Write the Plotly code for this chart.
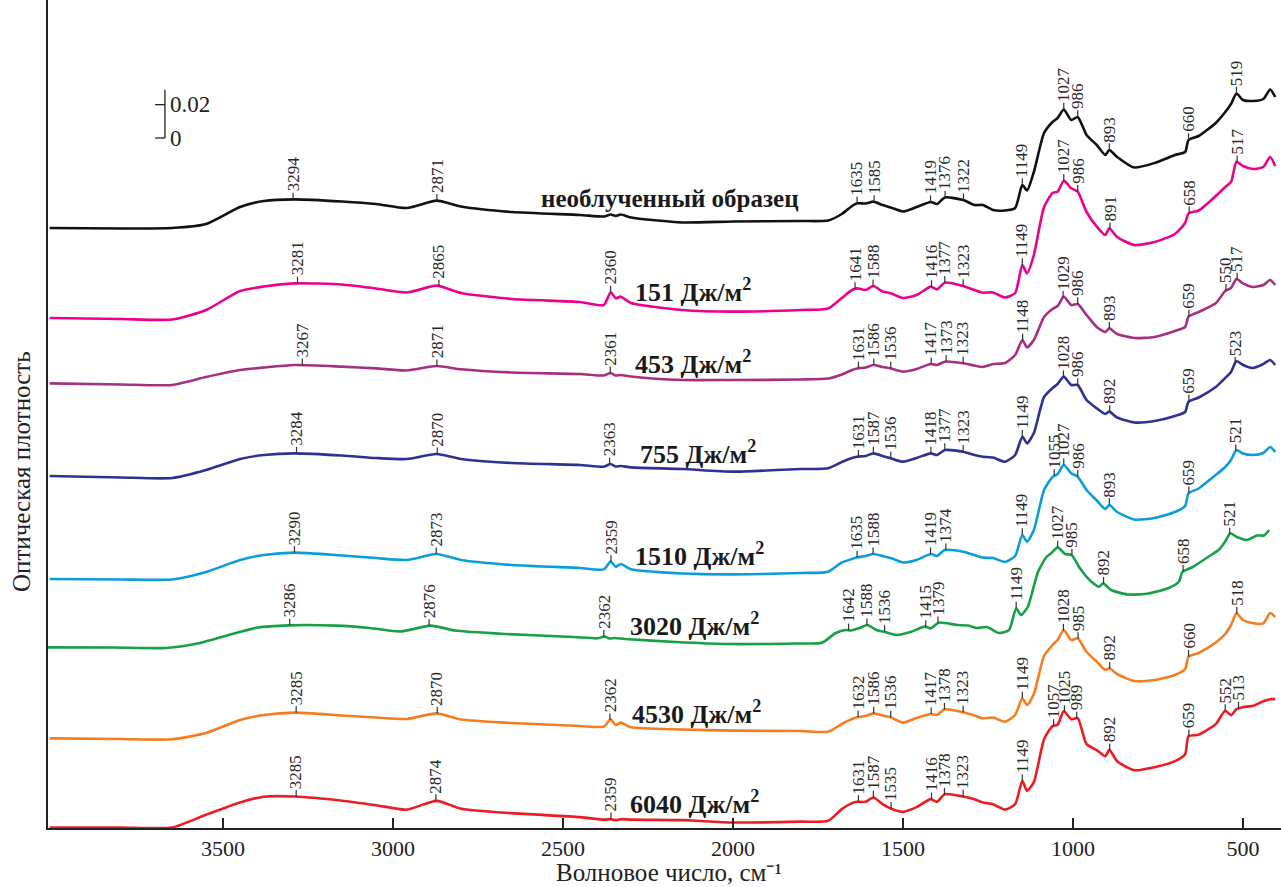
import numpy as np
import plotly.graph_objects as go

# Wavenumber grid (cm^-1)
WAVENUMBER = [4010, 3800, 3650, 3550, 3450, 3380, 3290, 3150, 3050, 2960,
              2872, 2800, 2650, 2450, 2380, 2360, 2345, 2330, 2300, 2150,
              2000, 1800, 1720, 1680, 1650, 1635, 1610, 1587, 1560, 1536,
              1500, 1460, 1418, 1400, 1377, 1323, 1290, 1265, 1235, 1200,
              1170, 1149, 1135, 1115, 1085, 1060, 1045, 1027, 1005, 986,
              960, 930, 905, 893, 870, 820, 760, 700, 670, 660,
              630, 580, 552, 535, 519, 500, 470, 440, 420, 405]

# Optical density (x1000) relative to each spectrum's baseline at 4000 cm^-1
unirradiated = [0, -0.3, 0, 2.4, 12.6, 16.2, 17.2, 15.9, 14.4, 12.0,
                16.4, 12.9, 9.6, 7.8, 6.9, 8.1, 7.2, 8.1, 6.3, 3.3,
                3.9, 4.2, 4.5, 8.4, 13.2, 14.8, 14.7, 15.8, 13.8, 12.3,
                9.9, 12.6, 15.6, 14.4, 18.3, 16.8, 13.8, 13.8, 10.8, 10.5,
                12.0, 25.8, 22.5, 33.6, 57.0, 63.6, 66.0, 71.1, 64.8, 66.6,
                55.8, 49.8, 43.8, 46.8, 42.6, 36.3, 39.0, 43.8, 45.6, 52.8,
                55.2, 63.0, 69.6, 74.4, 80.7, 76.8, 76.2, 77.4, 83.1, 78.6]
dose_151 = [0, -0.6, -0.9, 4.8, 16.2, 18.9, 20.8, 20.1, 17.7, 15.3,
            19.4, 15.0, 11.4, 9.6, 7.8, 15.4, 11.8, 12.8, 9.0, 4.8,
            3.8, 4.8, 5.7, 12.0, 16.8, 17.8, 16.8, 19.2, 15.9, 14.8,
            12.0, 13.8, 18.8, 17.2, 21.2, 19.2, 16.8, 15.2, 15.3, 12.3,
            15.0, 31.8, 26.8, 37.8, 66.6, 75.0, 75.8, 82.4, 77.8, 75.8,
            63.6, 54.8, 49.8, 53.8, 48.6, 43.8, 45.6, 50.4, 57.0, 62.8,
            64.5, 73.2, 78.6, 81.6, 93.8, 91.2, 89.4, 90.6, 96.6, 91.2]
dose_453 = [0, -0.7, -1.0, 3.8, 8.0, 9.5, 11.0, 10.0, 9.0, 7.7,
            10.4, 8.4, 6.5, 5.6, 4.7, 6.2, 4.7, 5.0, 4.1, 2.0,
            2.0, 2.3, 2.9, 5.3, 8.0, 8.9, 9.5, 11.0, 9.8, 8.9,
            7.0, 8.6, 11.6, 11.0, 13.0, 12.0, 10.7, 9.8, 11.6, 12.2,
            17.0, 26.0, 21.6, 26.0, 39.8, 44.6, 46.4, 52.0, 47.0, 47.6,
            41.0, 33.8, 30.8, 33.0, 29.6, 27.2, 27.8, 31.4, 33.8, 40.0,
            42.8, 48.0, 55.4, 57.2, 62.6, 60.0, 57.8, 59.0, 62.0, 59.0]
dose_755 = [0, -0.9, -1.2, 3.6, 10.2, 12.6, 13.6, 12.3, 10.8, 10.2,
            13.2, 10.2, 7.8, 6.6, 5.6, 7.2, 5.7, 6.0, 5.2, 4.2,
            2.6, 4.2, 4.6, 8.4, 10.8, 11.6, 12.0, 13.6, 12.0, 10.6,
            8.6, 10.8, 13.6, 12.6, 15.6, 14.6, 12.6, 11.6, 11.1, 8.6,
            12.6, 23.6, 19.6, 25.8, 47.4, 52.8, 55.2, 59.6, 54.6, 54.6,
            45.6, 40.6, 37.2, 38.6, 35.1, 32.1, 33.0, 36.0, 38.4, 44.6,
            47.1, 53.4, 58.8, 62.4, 69.0, 66.6, 64.8, 67.2, 69.6, 66.6]
dose_1510 = [0, -0.3, -0.3, 4.2, 11.4, 14.4, 15.8, 14.1, 12.6, 11.4,
             15.0, 11.4, 8.4, 6.6, 5.8, 10.4, 7.4, 9.0, 5.8, 3.3,
             2.8, 3.6, 4.4, 9.9, 12.0, 13.0, 13.8, 15.0, 13.8, 12.6,
             9.9, 11.4, 15.0, 13.8, 17.4, 16.4, 14.4, 12.9, 12.6, 10.2,
             13.8, 26.4, 22.4, 29.4, 53.4, 61.2, 63.0, 68.4, 63.4, 61.4,
             53.4, 47.1, 42.0, 44.4, 40.2, 35.7, 36.6, 40.2, 43.8, 51.4,
             54.3, 62.4, 67.2, 71.4, 77.4, 75.3, 74.4, 75.6, 79.2, 76.2]
dose_3020 = [0, -0.1, -0.4, 2.6, 8.3, 11.9, 13.2, 13.0, 11.6, 9.5,
             13.0, 10.1, 8.0, 6.2, 5.4, 6.5, 5.3, 5.6, 5.0, 3.2,
             2.0, 2.3, 2.8, 8.6, 10.4, 10.1, 11.6, 13.4, 10.4, 9.2,
             7.4, 9.2, 12.4, 11.4, 14.8, 13.4, 13.1, 11.6, 12.2, 8.6,
             10.4, 23.4, 19.4, 24.2, 45.2, 54.2, 56.6, 60.0, 56.0, 55.4,
             47.0, 39.8, 36.4, 38.4, 34.4, 31.7, 32.3, 35.6, 39.5, 45.2,
             48.2, 54.8, 58.7, 63.2, 68.4, 66.2, 64.4, 67.1, 67.1, 70.4]
dose_4530 = [0, -0.4, -0.6, 3.2, 11.0, 14.0, 15.4, 13.7, 12.5, 11.6,
             15.0, 11.3, 9.2, 7.4, 7.0, 11.4, 8.0, 9.4, 6.6, 5.3,
             4.6, 4.4, 4.0, 8.6, 11.6, 12.6, 13.4, 15.0, 13.7, 12.6,
             9.4, 12.2, 14.6, 14.0, 17.4, 15.6, 13.7, 12.0, 12.5, 10.0,
             14.0, 24.0, 20.0, 26.6, 49.4, 56.0, 59.0, 65.0, 59.0, 60.0,
             51.8, 46.0, 41.0, 42.0, 38.6, 34.4, 35.0, 38.0, 41.6, 49.0,
             51.2, 57.5, 62.6, 68.0, 75.0, 71.0, 69.0, 69.0, 75.2, 72.8]
dose_6040 = [0, 0, 0, 7.7, 15.0, 18.5, 18.6, 16.1, 13.4, 10.7,
             16.0, 11.3, 8.6, 6.2, 4.7, 5.0, 4.4, 5.0, 4.7, 4.4,
             3.0, 3.5, 4.0, 11.0, 14.6, 15.4, 15.4, 18.0, 14.0, 11.4,
             9.4, 12.2, 17.0, 15.4, 20.0, 18.6, 17.0, 15.0, 14.0, 10.7,
             14.0, 28.0, 22.0, 27.2, 53.0, 60.8, 61.7, 69.8, 65.0, 65.6,
             50.0, 46.4, 42.8, 46.6, 39.8, 34.4, 36.2, 39.8, 44.0, 54.8,
             55.7, 62.0, 70.0, 67.4, 71.0, 72.2, 73.0, 75.8, 77.0, 77.0]

SPECTRA = [unirradiated, dose_151, dose_453, dose_755, dose_1510, dose_3020, dose_4530, dose_6040]
LABELS = ["необлученный образец", "151 Дж/м<sup>2</sup>", "453 Дж/м<sup>2</sup>", "755 Дж/м<sup>2</sup>",
          "1510 Дж/м<sup>2</sup>", "3020 Дж/м<sup>2</sup>", "4530 Дж/м<sup>2</sup>", "6040 Дж/м<sup>2</sup>"]
# vertical stacking offset of each spectrum (x1000 optical density units)
OFFSETS = [360.0, 306.0, 266.8, 211.2, 149.4, 108.4, 53.8, 0.3]
# small wavenumber calibration shift of a spectrum as printed
WN_SHIFT = [0, 0, 0, 0, 0, 18, 0, 0]

PEAKS = [
    [3294, 2871, 1635, 1585, 1419, 1376, 1322, 1149, 1027, 986, 893, 660, 519],
    [3281, 2865, 2360, 1641, 1588, 1416, 1377, 1323, 1149, 1027, 986, 891, 658, 517],
    [3267, 2871, 2361, 1631, 1586, 1536, 1417, 1373, 1323, 1148, 1029, 986, 893, 659, 550, 517],
    [3284, 2870, 2363, 1631, 1587, 1536, 1418, 1377, 1323, 1149, 1028, 986, 892, 659, 523],
    [3290, 2873, 2359, 1635, 1588, 1419, 1374, 1149, 1055, 1027, 986, 893, 659, 521],
    [3286, 2876, 2362, 1642, 1588, 1536, 1415, 1379, 1149, 1027, 985, 892, 658, 521],
    [3285, 2870, 2362, 1632, 1586, 1536, 1417, 1378, 1323, 1149, 1028, 985, 892, 660, 518],
    [3285, 2874, 2359, 1631, 1587, 1535, 1416, 1378, 1323, 1149, 1057, 1025, 989, 892, 659, 552, 513],
]

TICK_VALUES = [3500, 3000, 2500, 2000, 1500, 1000, 500]
SCALE_BAR = 20  # 0.02 optical density

COLORS = ["#111111", "#ec008c", "#a6307f", "#2e3192", "#0a9ddb", "#17a045", "#f57d1f", "#ec1c24"]
LABEL_POS = [(2185, 378.0, "center"), (2294, 322.8, "left"), (2294, 279.6, "left"), (2279, 225.6, "left"),
             (2294, 164.4, "left"), (2309, 122.4, "left"), (2303, 69.6, "left"), (2309, 15.6, "left")]

SERIF = "Liberation Serif"
fig = go.Figure()
TICK = 4.0
for i, vals in enumerate(SPECTRA):
    x = [w + WN_SHIFT[i] for w in WAVENUMBER]
    y = [v + OFFSETS[i] for v in vals]
    fig.add_trace(go.Scatter(x=x, y=y, mode="lines",
                             line=dict(color=COLORS[i], width=2.6, shape="spline", smoothing=0.6),
                             showlegend=False, hoverinfo="skip"))
    xs = np.array(x[::-1], dtype=float)
    ys = np.array(y[::-1], dtype=float)
    for p in PEAKS[i]:
        px = p + WN_SHIFT[i]
        py = float(np.interp(px, xs, ys))
        fig.add_shape(type="line", x0=px, x1=px, y0=py, y1=py + TICK,
                      line=dict(color="#333333", width=1.2), layer="above")
        fig.add_annotation(x=px, y=py + TICK, text=str(p), textangle=-90, showarrow=False,
                           xanchor="center", yanchor="bottom", borderpad=0,
                           font=dict(family=SERIF, size=17, color="#2a2a2a"))
    lx, ly, anc = LABEL_POS[i]
    fig.add_annotation(x=lx, y=ly, text="<b>" + LABELS[i] + "</b>", showarrow=False,
                       xanchor=anc, yanchor="middle",
                       font=dict(family=SERIF, size=25 if i == 0 else 26, color="#1a1a1a"))

# scale bar
sb_x, sb_x0, sb_y0 = 3671, 3700, 414.0
fig.add_shape(type="line", x0=sb_x, x1=sb_x, y0=sb_y0, y1=sb_y0 + SCALE_BAR * 1.45,
              line=dict(color="#222222", width=1.3))
for v in (0, SCALE_BAR):
    fig.add_shape(type="line", x0=sb_x0, x1=sb_x, y0=sb_y0 + v, y1=sb_y0 + v,
                  line=dict(color="#222222", width=1.3))
fig.add_annotation(x=3662, y=sb_y0 + SCALE_BAR, text="0.02", showarrow=False, xanchor="left",
                   yanchor="middle", font=dict(family=SERIF, size=23, color="#222222"))
fig.add_annotation(x=3662, y=sb_y0, text="0", showarrow=False, xanchor="left",
                   yanchor="middle", font=dict(family=SERIF, size=23, color="#222222"))

# axis titles
fig.add_annotation(xref="paper", yref="paper", x=(669 - 48) / 1233, y=(828 - 887) / 828,
                   text="Волновое число, см⁻¹", showarrow=False,
                   xanchor="center", yanchor="bottom", borderpad=0,
                   font=dict(family=SERIF, size=25, color="#222222"))
fig.add_annotation(xref="paper", yref="paper", x=-27 / 1233, y=(828 - 472) / 828,
                   text="Оптическая плотность", showarrow=False, textangle=-90,
                   xanchor="center", yanchor="middle",
                   font=dict(family=SERIF, size=25, color="#222222"))

fig.update_layout(
    width=1281, height=887,
    margin=dict(l=48, r=0, t=0, b=59),
    plot_bgcolor="white", paper_bgcolor="white",
    xaxis=dict(range=[4015, 388], tickvals=TICK_VALUES, ticks="inside", ticklen=10,
               tickwidth=1.5, tickcolor="#222222", showline=True, linecolor="#222222",
               linewidth=2, showgrid=False, zeroline=False,
               tickfont=dict(family=SERIF, size=22, color="#222222")),
    yaxis=dict(range=[0, 496.8], showticklabels=False, ticks="", showline=True,
               linecolor="#222222", linewidth=2, showgrid=False, zeroline=False),
)
fig.write_html("out.html")
